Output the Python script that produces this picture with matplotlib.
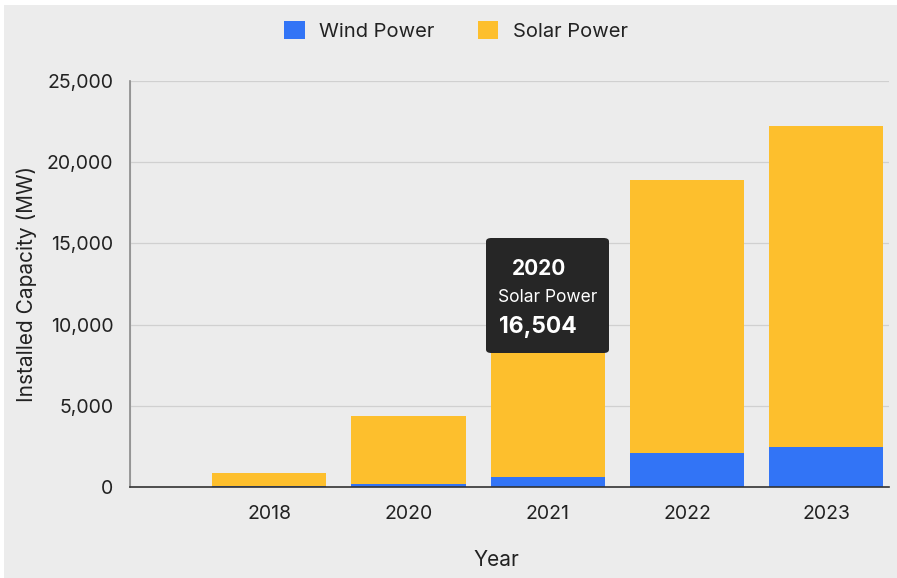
import numpy as np
import matplotlib.pyplot as plt
from matplotlib.patches import Rectangle, FancyBboxPatch
from matplotlib.ticker import FuncFormatter

plt.rcParams['font.family'] = ['Inter', 'DejaVu Sans']

years = ["2018", "2020", "2021", "2022", "2023"]
wind = [50, 200, 620, 2100, 2470]
solar = [810, 4170, 13500, 16800, 19760]

tip_year = "2020"
tip_series = "Solar Power"
tip_value = "16,504"

BLUE = "#3274f6"
YELLOW = "#fdbf2d"
BG = "#ececec"

fig = plt.figure(figsize=(8.97, 5.78), dpi=100, facecolor="white")
fig.patches.append(Rectangle((4 / 897, 0), 1, 1 - 5 / 578, transform=fig.transFigure,
                             facecolor=BG, edgecolor="none", zorder=-10))
ax = fig.add_axes([130 / 897, 91 / 578, 759 / 897, 406 / 578])
ax.set_facecolor(BG)

x = np.arange(len(years))
ax.bar(x, wind, width=0.82, color=BLUE, label="Wind Power", zorder=3)
ax.bar(x, solar, width=0.82, bottom=wind, color=YELLOW, label="Solar Power", zorder=3)

ax.set_xlim(-1.0, 4.45)
ax.set_ylim(0, 25000)
ax.set_xticks(x)
ax.set_xticklabels(years)
ax.set_yticks(np.arange(0, 25001, 5000))
ax.yaxis.set_major_formatter(FuncFormatter(lambda v, p: f"{int(v):,}"))
ax.tick_params(axis="both", length=0, labelsize=14, colors="#222222")
ax.tick_params(axis="x", pad=13)
ax.tick_params(axis="y", pad=12)

# vertical grid also at the empty slot on the left
ax.set_xticks(np.arange(-1, 5), minor=True)
ax.tick_params(axis="x", which="minor", length=0)
ax.grid(True, which="minor", axis="x", color="#d0d0d0", lw=0.9, zorder=0)
ax.grid(True, which="major", axis="y", color="#d0d0d0", lw=0.9, zorder=0)
ax.grid(False, which="major", axis="x")

for side in ["top", "right"]:
    ax.spines[side].set_visible(False)
ax.spines["left"].set_color("#8a8a8a")
ax.spines["left"].set_linewidth(1.2)
ax.spines["bottom"].set_color("#333333")
ax.spines["bottom"].set_linewidth(1.2)
ax.spines["bottom"].set_zorder(4)

ax.set_ylabel("Installed Capacity (MW)", fontsize=15, color="#222222")
ax.yaxis.set_label_coords(-0.123, 0.5)
ax.set_xlabel("Year", fontsize=15, color="#222222")
ax.xaxis.set_label_coords(0.483, -0.155)

leg = fig.legend(loc="center", bbox_to_anchor=(456 / 897, 1 - 31 / 578), ncol=2,
                 frameon=False, fontsize=14.5, handlelength=1.0, handleheight=1.0,
                 columnspacing=2.2, handletextpad=0.7)
for t in leg.get_texts():
    t.set_color("#222222")

# tooltip box over the 2021 bar
box = FancyBboxPatch((486 / 897, 1 - 353 / 578), 123 / 897, 115 / 578,
                     boxstyle="round,pad=0,rounding_size=0.006",
                     transform=fig.transFigure, facecolor="#262626",
                     edgecolor="none", zorder=10)
fig.patches.append(box)
fig.text(512 / 897, 1 - 269 / 578, tip_year, color="white", fontsize=15,
         fontweight="bold", va="center", ha="left", zorder=11)
fig.text(498 / 897, 1 - 298 / 578, tip_series, color="white", fontsize=12.5,
         va="center", ha="left", zorder=11)
fig.text(499 / 897, 1 - 327 / 578, tip_value, color="white", fontsize=16.5,
         fontweight="bold", va="center", ha="left", zorder=11)

fig.savefig("out.png", dpi=100, facecolor=fig.get_facecolor())
plt.close(fig)
